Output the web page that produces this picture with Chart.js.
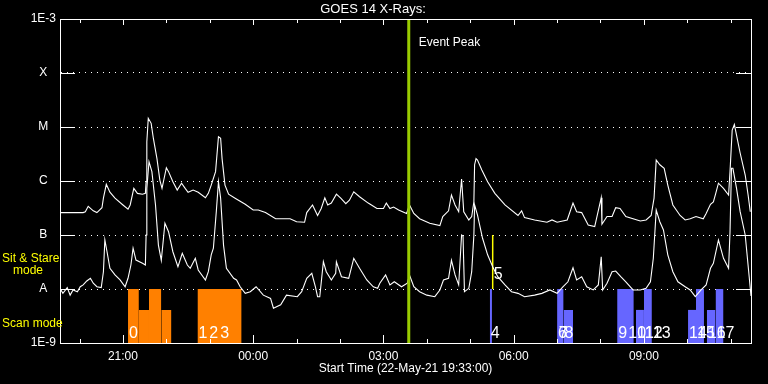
<!DOCTYPE html>
<html><head><meta charset="utf-8">
<script src="https://cdn.jsdelivr.net/npm/chart.js@4"></script>
<style>html,body{margin:0;padding:0;background:#000;}canvas{display:block}</style>
</head><body>
<canvas id="c" width="768" height="384"></canvas>
<script>
// time axis: minutes after start (22-May-21 19:33:00)
const startClockMinutes = 19 * 60 + 33;
const axisMaxMinutes = 955;

// GOES long channel (1-8 A), W/m^2
const longTimes = [0,32,35,39,46,51,58,60,64,69,76,87,94,97,102,107,114,118,119,120,122,126,129,134,138,141,147,150,156,162,168,173,177,184,191,201,205,209,215,219,222,224,228,233,242,256,267,274,284,298,309,318,327,338,341,349,356,361,366,370,375,382,388,395,400,406,414,426,438,447,451,456,461,468,479,483,489,497,511,525,529,537,541,546,551,555,558,565,569,572,573,575,577,583,591,601,615,633,638,642,656,673,680,687,701,709,714,721,730,739,748,749,756,763,768,774,782,792,802,810,817,821,824,829,835,840,847,857,864,871,879,889,893,899,903,906,910,917,924,926,929,932,935,940,947,951,954];
const longFlux = [2.6e-7,2.6e-7,2.7e-7,3.4e-7,2.8e-7,2.6e-7,3.2e-7,4.8e-7,8.7e-7,6.2e-7,4.8e-7,3.6e-7,3.0e-7,3.6e-7,7.3e-7,5.9e-7,5.7e-7,5.9e-7,9.7e-7,5.3e-6,1.45e-5,1.17e-5,6.2e-6,2.6e-6,1.04e-6,7.3e-7,1.76e-6,1.49e-6,9.7e-7,6.8e-7,9.1e-7,7.3e-7,6.2e-7,6.8e-7,6.2e-7,4.9e-7,5.9e-7,8.4e-7,1.49e-6,6.6e-6,6.2e-6,2.6e-6,8.4e-7,5.7e-7,4.8e-7,3.7e-7,2.9e-7,2.9e-7,2.6e-7,2.0e-7,2.0e-7,2.0e-7,1.76e-7,1.72e-7,2.6e-7,3.6e-7,2.3e-7,3.1e-7,4.9e-7,3.6e-7,3.9e-7,5.7e-7,4.8e-7,3.8e-7,4.4e-7,6.3e-7,5.1e-7,3.9e-7,3.1e-7,3.1e-7,3.9e-7,3.1e-7,3.3e-7,2.9e-7,2.5e-7,3.6e-7,2.5e-7,2.0e-7,1.65e-7,1.49e-7,2.2e-7,2.8e-7,5.5e-7,3.6e-7,2.7e-7,1.09e-6,2.7e-7,1.9e-7,2.2e-7,4.1e-7,2.0e-6,2.6e-6,2.45e-6,1.6e-6,9.7e-7,5.9e-7,3.6e-7,2.3e-7,2.8e-7,2.1e-7,1.9e-7,1.72e-7,1.9e-7,1.72e-7,1.9e-7,3.9e-7,2.7e-7,2.6e-7,1.53e-7,1.43e-7,4.9e-7,1.58e-7,2.2e-7,2.2e-7,3.2e-7,3.1e-7,2.2e-7,2.0e-7,1.82e-7,1.9e-7,2.3e-7,4.8e-7,2.45e-6,2.0e-6,1.72e-6,8.4e-7,3.6e-7,2.3e-7,1.9e-7,2.0e-7,2.2e-7,2.0e-7,2.5e-7,3.7e-7,4.1e-7,5.7e-7,9.1e-7,7.3e-7,5.5e-7,1.49e-6,8.8e-6,1.12e-5,7.1e-6,3.3e-6,1.29e-6,5.5e-7,2.7e-7];

// GOES short channel (0.5-4 A), W/m^2
const shortTimes = [0,4,10,14,18,24,28,32,37,42,46,51,57,60,62,65,69,76,83,90,94,98,101,105,114,118,119,120,123,127,132,136,140,143,145,150,156,163,169,176,180,187,191,201,205,209,212,216,219,222,226,230,240,244,249,256,263,271,281,291,295,305,313,328,334,341,348,353,356,359,364,368,375,381,382,389,399,406,414,424,433,439,442,450,456,462,472,480,483,489,497,507,518,525,530,537,541,546,551,555,557,559,565,569,572,573,577,584,591,598,605,615,624,633,642,656,666,677,687,695,702,709,714,721,728,737,744,748,750,756,763,768,775,782,792,802,810,816,820,824,829,834,840,847,854,864,871,878,886,893,899,903,910,917,924,926,928,930,935,940,947,954,955];
const shortFlux = [1.03e-8,8.3e-9,1.06e-8,7.7e-9,9.6e-9,8.9e-9,1.1e-8,1.19e-8,1.41e-8,1.58e-8,1.28e-8,1.1e-8,1.06e-8,2.09e-8,8.1e-8,4.9e-8,2.42e-8,1.82e-8,1.47e-8,1.1e-8,1.58e-8,2.78e-8,5.7e-8,3.44e-8,2.99e-8,2.78e-8,1.0e-7,7.3e-7,2.28e-6,1.49e-6,3.6e-7,6.5e-8,3.4e-8,8.7e-8,1.65e-7,1.15e-7,4.9e-8,2.59e-8,4.6e-8,2.78e-8,2.42e-8,3.7e-8,2.25e-8,1.47e-8,2.09e-8,4.3e-8,5.7e-8,2.7e-7,9.7e-7,4.8e-7,6.5e-8,2.42e-8,1.58e-8,1.47e-8,1.1e-8,8.3e-9,8.9e-9,1.1e-8,7.7e-9,6.7e-9,4.4e-9,5.1e-9,7.7e-9,7.2e-9,8.9e-9,1.58e-8,1.95e-8,1.1e-8,7.2e-9,7.2e-9,3.2e-8,2.09e-8,1.47e-8,1.95e-8,3.2e-8,1.69e-8,1.58e-8,3.7e-8,2.42e-8,1.47e-8,1.1e-8,1.03e-8,1.28e-8,1.82e-8,1.19e-8,1.36e-8,1.1e-8,1.28e-8,1.82e-8,1.1e-8,8.9e-9,7.7e-9,7.2e-9,9.6e-9,1.47e-8,1.58e-8,3.4e-8,1.82e-8,1.19e-8,1.0e-7,9.6e-8,8.9e-9,1.03e-8,2.09e-8,1.0e-7,3.6e-7,2.34e-7,8.7e-8,4.3e-8,2.59e-8,1.69e-8,1.19e-8,8.9e-9,8.3e-9,7.2e-9,7.7e-9,8.3e-9,9.6e-9,8.3e-9,1.1e-8,1.36e-8,2.48e-8,1.47e-8,1.69e-8,1.1e-8,9.6e-9,1.19e-8,3.96e-8,9.6e-9,1.28e-8,2.09e-8,2.15e-8,1.69e-8,1.36e-8,9.6e-9,9.6e-9,1.03e-8,1.36e-8,3.7e-8,2.9e-7,1.76e-7,1.24e-7,4.3e-8,2.09e-8,1.36e-8,1.1e-8,9.6e-9,7.2e-9,9.6e-9,1.19e-8,2.42e-8,2.99e-8,8.1e-8,3.7e-8,2.42e-8,1.15e-7,1.72e-6,1.72e-6,7.3e-7,2.7e-7,1.0e-7,1.03e-8,7.4e-9];

// y axis ticks
const yTickValues = [1e-9,1e-8,1e-7,1e-6,1e-5,1e-4,1e-3];
const yTickLabels = ['1E-9','A','B','C','M','X','1E-3'];
// x axis labelled ticks (minutes after start) and hourly minor ticks
const xTickMinutes = [87,267,447,627,807];
const hourTickMinutes = [27,87,147,207,267,327,387,447,507,567,627,687,747,807,867,927];

// observations (scan mode blocks)
const scanStarts = [94,109,123,140,190,594,687,696,770,796,807,868,879,894,906];
const scanEnds   = [109,123,140,154,251,597,696,709,793,807,818,879,890,906,917];
const scanLevels = [1e-8,4.1e-9,1e-8,4.1e-9,1e-8,1e-8,1e-8,4.1e-9,1e-8,4.1e-9,1e-8,4.1e-9,1e-8,4.1e-9,1e-8];
const scanGroup  = ['early','early','early','early','early','late','late','late','late','late','late','late','late','late','late'];

// observation numbers
const obsLabelMinutes = [94,190,205,220,594,687,688,696,770,784,796,807,818,868,879,894,906];
const obsLabelTexts   = ['0','1','2','3','4','6','7','8','9','10','11','12','13','14','15','16','17'];
// sit & stare observation
const sitStareMinute = 598;
const sitStareRange = [1e-8, 1e-7];
const sitStareLabel = '5';
// event peak
const eventPeakMinute = 482;

const FONT = '"Liberation Sans", Arial, sans-serif';
const groupColor = {early:'rgb(255,128,0)', late:'rgb(102,102,255)'};

function fmtClock(m){
  const t = ((startClockMinutes + Math.round(m)) % 1440 + 1440) % 1440;
  const h = Math.floor(t/60), mm = t%60;
  return String(h).padStart(2,'0') + ':' + String(mm).padStart(2,'0');
}
const toPts = (ts, vs) => ts.map((t,i)=>({x:t, y:vs[i]}));

const datasets = [];
datasets.push({label:'Event Peak', data:[{x:eventPeakMinute,y:1e-9},{x:eventPeakMinute,y:1e-3}],
  borderColor:'rgb(153,204,0)', borderWidth:3, pointRadius:0, order:0});
datasets.push({label:'long', data:toPts(longTimes,longFlux), borderColor:'#fff', borderWidth:1.1, pointRadius:0, tension:0, order:1});
datasets.push({label:'short', data:toPts(shortTimes,shortFlux), borderColor:'#fff', borderWidth:1.1, pointRadius:0, tension:0, order:1});
datasets.push({label:'sit', data:[{x:sitStareMinute,y:sitStareRange[0]},{x:sitStareMinute,y:sitStareRange[1]}],
  borderColor:'rgb(255,255,0)', borderWidth:1.5, pointRadius:0, order:2});
scanStarts.forEach((s,i)=>{
  const c = groupColor[scanGroup[i]];
  datasets.push({label:'scan'+i, data:[{x:s,y:scanLevels[i]},{x:scanEnds[i],y:scanLevels[i]}],
    borderWidth:0, borderColor:c, backgroundColor:c, fill:'start', pointRadius:0, order:3});
});

const decor = {
  id:'decor',
  afterDraw(chart){
    const {ctx, chartArea:a, scales:{x, y}} = chart;
    ctx.save();
    ctx.strokeStyle = '#fff'; ctx.lineWidth = 1;
    ctx.beginPath();
    ctx.moveTo(a.left, a.top+0.5); ctx.lineTo(a.right+1, a.top+0.5);
    ctx.moveTo(a.right+0.5, a.top); ctx.lineTo(a.right+0.5, a.bottom+1);
    ctx.moveTo(a.left+0.5, a.top); ctx.lineTo(a.left+0.5, a.bottom+1);
    ctx.moveTo(a.left, a.bottom+0.5); ctx.lineTo(a.right+1, a.bottom+0.5);
    // y decade ticks (inward, both sides)
    yTickValues.forEach(v=>{
      const py = Math.round(y.getPixelForValue(v)) + 0.5;
      ctx.moveTo(a.left, py); ctx.lineTo(a.left+15, py);
      ctx.moveTo(a.right, py); ctx.lineTo(a.right-15, py);
    });
    // hourly ticks (inward, bottom and top)
    hourTickMinutes.forEach(m=>{
      const px = Math.round(x.getPixelForValue(m)) + 0.5;
      const major = xTickMinutes.includes(m);
      ctx.moveTo(px, a.bottom); ctx.lineTo(px, a.bottom - (major?8:4));
      ctx.moveTo(px, a.top); ctx.lineTo(px, a.top + (major?6:4));
    });
    ctx.stroke();

    // texts
    ctx.fillStyle = '#fff';
    ctx.textBaseline = 'middle';
    ctx.font = '13px ' + FONT;
    ctx.textAlign = 'center';
    ctx.fillText('GOES 14 X-Rays:', 373, 9);
    ctx.font = '12px ' + FONT;
    ctx.textAlign = 'left';
    ctx.fillText('Event Peak', x.getPixelForValue(eventPeakMinute) + 10, 43);

    ctx.fillStyle = 'rgb(255,255,0)';
    ctx.fillText('Sit & Stare', 2, 259);
    ctx.fillText('mode', 13, 271);
    ctx.fillText('Scan mode', 2, 324);

    ctx.fillStyle = '#fff';
    ctx.font = '16px ' + FONT;
    ctx.textBaseline = 'alphabetic';
    obsLabelMinutes.forEach((m,i)=>{
      ctx.fillText(obsLabelTexts[i], x.getPixelForValue(m) + 1, a.bottom - 5);
    });
    ctx.fillText(sitStareLabel, x.getPixelForValue(sitStareMinute) + 1, y.getPixelForValue(1.5e-8));
    ctx.restore();
  }
};

new Chart(document.getElementById('c'), {
  type:'line',
  data:{datasets},
  plugins:[decor],
  options:{
    responsive:false, animation:false, devicePixelRatio:1,
    layout:{padding:{top:19, right:17, left:0, bottom:0}},
    plugins:{legend:{display:false}, tooltip:{enabled:false}, title:{display:false}},
    elements:{line:{borderCapStyle:'butt'}},
    scales:{
      x:{
        type:'linear', min:0, max:axisMaxMinutes,
        afterBuildTicks(s){ s.ticks = xTickMinutes.map(v=>({value:v})); },
        afterFit(s){ s.height = 41; },
        ticks:{color:'#fff', font:{family:FONT, size:12}, padding:6, maxRotation:0, autoSkip:false,
          callback:(v)=>fmtClock(v)},
        grid:{display:false, drawTicks:false},
        border:{display:true, color:'#fff', width:1},
        title:{display:true, text:'Start Time (22-May-21 19:33:00)', color:'#fff',
          font:{family:FONT, size:12}, padding:{top:0, bottom:8}}
      },
      y:{
        type:'logarithmic', min:1e-9, max:1e-3,
        afterBuildTicks(s){ s.ticks = yTickValues.map(v=>({value:v})); },
        afterFit(s){ s.width = 60; },
        ticks:{color:'#fff', font:{family:FONT, size:12}, padding:4, crossAlign:'center', autoSkip:false,
          callback:(v)=>{ const i = yTickValues.findIndex(t=>Math.abs(Math.log10(t)-Math.log10(v))<1e-6); return i>=0?yTickLabels[i]:''; }},
        grid:{display:true, color:'#fff', lineWidth:1, drawTicks:false},
        border:{display:true, color:'#fff', width:1, dash:[1,5]}
      }
    }
  }
});
</script>
</body></html>
